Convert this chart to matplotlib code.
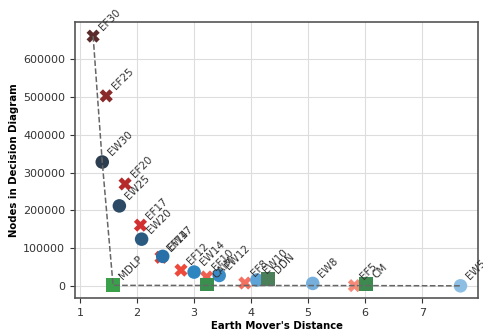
import matplotlib
matplotlib.use("Agg")
import matplotlib.pyplot as plt

# EF (equal frequency) discretisations
ef_labels = ["EF30", "EF25", "EF20", "EF17", "EF14", "EF12", "EF10", "EF8", "EF5"]
ef_x = [1.23, 1.46, 1.79, 2.06, 2.42, 2.77, 3.22, 3.89, 5.81]
ef_y = [661000, 503000, 270000, 161000, 76000, 42000, 24000, 8000, 1200]
ef_colors = ["#5b2b2b", "#8a2a2a", "#b52a2a", "#d23030", "#e43a30",
             "#ee4a3c", "#f06050", "#f47060", "#f58a78"]

# EW (equal width) discretisations
ew_labels = ["EW30", "EW25", "EW20", "EW17", "EW14", "EW12", "EW10", "EW8", "EW5"]
ew_x = [1.39, 1.69, 2.08, 2.45, 3.00, 3.44, 4.10, 5.08, 7.67]
ew_y = [328000, 212000, 124000, 78500, 37000, 28000, 16000, 7000, 600]
ew_colors = ["#2c3e50", "#2c4a65", "#2a5a80", "#2a70a8", "#2e86c1",
             "#3a8cc8", "#5ea3d8", "#76afdc", "#8cbfe3"]

# supervised methods
sup_labels = ["MDLP", "CAIM", "DDN", "CM"]
sup_x = [1.58, 3.22, 4.30, 6.02]
sup_y = [1800, 4000, 18000, 5000]
sup_colors = ["#3aa04a", "#3a8f4f", "#4a7f5a", "#3d8a50"]

fig = plt.figure(figsize=(4.83, 3.35), dpi=100)
ax = fig.add_axes([0.155, 0.11, 0.835, 0.824])

ax.grid(True, color="#dddddd", linewidth=0.8, zorder=0)
ax.set_axisbelow(True)

ax.scatter(ef_x, ef_y, marker="X", s=90, c=ef_colors, edgecolors="none", zorder=3)
ax.scatter(ew_x, ew_y, marker="o", s=95, c=ew_colors, edgecolors="none", zorder=3)
ax.scatter(sup_x, sup_y, marker="s", s=100, c=sup_colors, edgecolors="none", zorder=3)

all_lab = ef_labels + ew_labels + sup_labels
all_x = ef_x + ew_x + sup_x
all_y = ef_y + ew_y + sup_y
for lab, x, y in zip(all_lab, all_x, all_y):
    ax.annotate(lab, (x, y), xytext=(8, 3), textcoords="offset points",
                rotation=45, fontsize=7.5, color="#333333", ha="left", va="bottom",
                rotation_mode="anchor", zorder=4, annotation_clip=False)

# pareto front (lower x and lower y is better)
pts = sorted(zip(all_x, all_y))
front = []
best = float("inf")
for x, y in pts:
    if y < best:
        front.append((x, y))
        best = y
ax.plot([p[0] for p in front], [p[1] for p in front], linestyle="--",
        color="#666666", linewidth=1.1, zorder=5)

ax.set_xlim(0.91, 7.98)
ax.set_ylim(-32000, 698000)
ax.set_xticks([1, 2, 3, 4, 5, 6, 7])
ax.set_yticks([0, 100000, 200000, 300000, 400000, 500000, 600000])
ax.tick_params(labelsize=8, colors="#333333", length=3.5, direction="out")
ax.set_xlabel("Earth Mover's Distance", fontsize=7.3, fontweight="bold", labelpad=2)
ax.set_ylabel("Nodes in Decision Diagram", fontsize=7.3, fontweight="bold", labelpad=3)
for sp in ax.spines.values():
    sp.set_color("#555555")
    sp.set_linewidth(1.2)

fig.savefig("out.png", dpi=100)
